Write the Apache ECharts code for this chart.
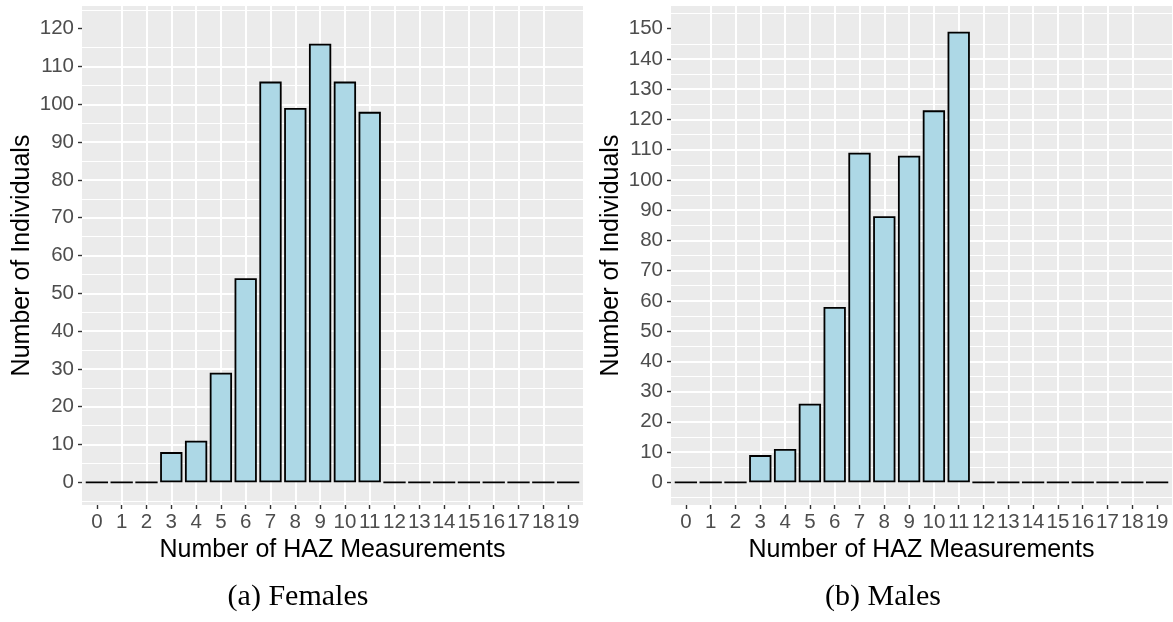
<!DOCTYPE html>
<html>
<head>
<meta charset="utf-8">
<script src="https://cdn.jsdelivr.net/npm/echarts@6/dist/echarts.min.js"></script>
<style>
  html, body { margin: 0; padding: 0; background: #fff; }
  #main { width: 1173px; height: 622px; }
</style>
</head>
<body>
<div id="main"></div>
<script>
// number of HAZ measurements (x categories)
const measurements = [0, 1, 2, 3, 4, 5, 6, 7, 8, 9, 10, 11, 12, 13, 14, 15, 16, 17, 18, 19];
// individuals per number of measurements
const femaleCounts = [0, 0, 0, 8, 11, 29, 54, 106, 99, 116, 106, 98, 0, 0, 0, 0, 0, 0, 0, 0];
const maleCounts = [0, 0, 0, 9, 11, 26, 58, 109, 88, 108, 123, 149, 0, 0, 0, 0, 0, 0, 0, 0];
// y tick labels
const femaleTicks = [0, 10, 20, 30, 40, 50, 60, 70, 80, 90, 100, 110, 120];
const maleTicks = [0, 10, 20, 30, 40, 50, 60, 70, 80, 90, 100, 110, 120, 130, 140, 150];
const captions = ["(a) Females", "(b) Males"];

const panelW = 501;
const panelH = 499;
const panelTop = 6;
const panelLefts = [82, 671];
const captionCenters = [298, 883];

function xAxisFor(gridIndex) {
  return {
    type: "value",
    gridIndex: gridIndex,
    min: -0.6,
    max: 19.6,
    minInterval: 1,
    maxInterval: 1,
    axisLine: { show: false, onZero: false },
    axisTick: {
      show: true,
      customValues: measurements,
      length: 4,
      lineStyle: { color: "#333333", width: 1.4 },
    },
    axisLabel: {
      customValues: measurements,
      fontFamily: "Liberation Sans",
      fontSize: 20.5,
      color: "#4D4D4D",
      margin: 7,
      formatter: (v) => (Number.isInteger(v) ? String(v) : ""),
    },
    splitLine: {
      show: true,
      showMinLine: false,
      showMaxLine: false,
      lineStyle: { color: "#ffffff", width: 2 },
    },
    name: "Number of HAZ Measurements",
    nameLocation: "middle",
    nameGap: 32,
    nameTextStyle: { fontFamily: "Liberation Sans", fontSize: 25, color: "#000000" },
  };
}

function yAxisFor(gridIndex, ticks) {
  const top = ticks[ticks.length - 1];
  const pad = top * 0.05;
  return {
    type: "value",
    gridIndex: gridIndex,
    min: -pad,
    max: top + pad,
    minInterval: 10,
    maxInterval: 10,
    axisLine: { show: false, onZero: false },
    axisTick: {
      show: true,
      customValues: ticks,
      length: 4,
      lineStyle: { color: "#333333", width: 1.4 },
    },
    axisLabel: {
      customValues: ticks,
      fontFamily: "Liberation Sans",
      fontSize: 20.5,
      color: "#4D4D4D",
      margin: 8,
      formatter: (v) => (v % 10 === 0 ? String(v) : ""),
    },
    splitLine: {
      show: true,
      showMinLine: false,
      showMaxLine: false,
      lineStyle: { color: "#ffffff", width: 2 },
    },
    minorTick: { show: false, splitNumber: 2 },
    minorSplitLine: { show: true, lineStyle: { color: "#ffffff", width: 1 } },
    name: "Number of Individuals",
    nameLocation: "middle",
    nameGap: 47,
    nameTextStyle: { fontFamily: "Liberation Sans", fontSize: 25, color: "#000000" },
  };
}

function barSeries(gridIndex, counts) {
  return {
    type: "bar",
    xAxisIndex: gridIndex,
    yAxisIndex: gridIndex,
    barWidth: 22.3,
    data: counts.map((v, i) => [measurements[i], v]),
    itemStyle: { color: "#ADD8E6", borderColor: "#000000", borderWidth: 1.8 },
    emphasis: { disabled: true },
  };
}

const chart = echarts.init(document.getElementById("main"));
chart.setOption({
  animation: false,
  grid: panelLefts.map((left) => ({
    left: left,
    top: panelTop,
    width: panelW,
    height: panelH,
    show: true,
    backgroundColor: "#EBEBEB",
    borderWidth: 0,
    containLabel: false,
  })),
  xAxis: [xAxisFor(0), xAxisFor(1)],
  yAxis: [yAxisFor(0, femaleTicks), yAxisFor(1, maleTicks)],
  series: [barSeries(0, femaleCounts), barSeries(1, maleCounts)],
  graphic: captions.map((c, i) => ({
    type: "text",
    x: captionCenters[i],
    y: 582,
    style: {
      text: c,
      textAlign: "center",
      textVerticalAlign: "top",
      font: '30px "Liberation Serif"',
      fill: "#000000",
    },
  })),
});
</script>
</body>
</html>
